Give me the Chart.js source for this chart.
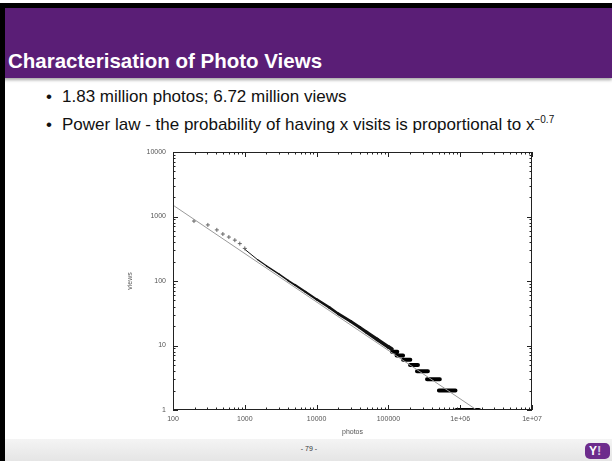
<!DOCTYPE html>
<html>
<head>
<meta charset="utf-8">
<script src="https://cdn.jsdelivr.net/npm/chart.js@4.4.0/dist/chart.umd.min.js"></script>
<style>
  html, body { margin: 0; padding: 0; background: #fff; }
  #slide { position: relative; width: 612px; height: 461px; overflow: hidden; background: #fff;
           font-family: "Liberation Sans", Arial, sans-serif; }
  #topline { position: absolute; left: 0; top: 3px; width: 612px; height: 5px; background: #000; }
  #leftline { position: absolute; left: 0; top: 3px; width: 5px; height: 458px; background: #000; z-index: 5; }
  #header { position: absolute; left: 0; top: 8px; width: 612px; height: 70px; background: #5a1e76;
            box-shadow: 0 2px 3px rgba(0,0,0,0.35); }
  #header h1 { position: absolute; left: 8px; top: 41px; margin: 0; font-size: 20.5px; line-height: 24px;
               color: #fff; font-weight: bold; }
  .bullet { position: absolute; left: 46px; font-size: 17px; line-height: 20px; color: #111; white-space: nowrap; }
  .bullet span.dot { display: inline-block; width: 16px; }
  .bullet sup { font-size: 10px; vertical-align: 7px; line-height: 0; }
  #chartBox { position: absolute; left: 90px; top: 140px; width: 460px; height: 300px; }
  #footer { position: absolute; left: 0; top: 439px; width: 612px; height: 22px;
            background: linear-gradient(#f4f4f4, #e5e5e5); }
  #page { position: absolute; left: 0; width: 618px; top: 6px; text-align: center; font-size: 7px; color: #333; }
  #logo { position: absolute; left: 585px; top: 4px; width: 25px; height: 16px; border-radius: 5px;
          background: #6d2c8c; color: #fff; font: bold 12px "Liberation Sans", Arial, sans-serif;
          line-height: 16px; text-align: left; padding-left: 4px; box-sizing: border-box; }
  #logo b { color: #d9c7e3; font-size: 13px; }
</style>
</head>
<body>
<div id="slide">
  <div id="topline"></div>
  <div id="header"><h1>Characterisation of Photo Views</h1></div>
  <div class="bullet" style="top:87px"><span class="dot">•</span>1.83 million photos; 6.72 million views</div>
  <div class="bullet" style="top:115px"><span class="dot">•</span>Power law - the probability of having x visits is proportional to x<sup>−0.7</sup></div>
  <div id="chartBox"><canvas id="viewsChart" width="460" height="300"></canvas></div>
  <div id="footer"><div id="page">- 79 -</div><div id="logo">Y<b>!</b></div></div>
  <div id="leftline"></div>
</div>
<script>
// fitted power law, drawn as a thin grey line
const fitPhotos = [100, 1700000];
const fitViews = [1500, 1];

// the few most viewed photos, plotted as single crosses
const headPhotos = [196, 306, 408, 495, 600, 727, 852, 1000];
const headViews = [850, 740, 620, 535, 480, 430, 380, 320];

// dense middle of the distribution
const bodyPhotos = [1000, 1500, 2000, 3000, 4000, 5000, 7000, 10000, 15000, 20000, 30000, 40000, 50000, 70000, 100000, 112000];
const bodyViews = [310, 215, 172, 128, 102, 87, 68, 52, 39, 31, 23.5, 19, 16, 12.4, 9.5, 8.8];

// tail: runs of photos sharing the same small view count
const stepViews = [8, 7, 6, 5, 4, 3, 2, 1];
const stepFrom = [112000, 130000, 160000, 200000, 250000, 345000, 505000, 880000];
const stepTo = [133000, 160000, 202000, 258000, 355000, 520000, 860000, 1830000];

// axis ticks
const xTickValues = [100, 1000, 10000, 100000, 1000000, 10000000];
const xTickLabels = ['100', '1000', '10000', '100000', '1e+06', '1e+07'];
const yTickValues = [1, 10, 100, 1000, 10000];
const yTickLabels = ['1', '10', '100', '1000', '10000'];

const pairs = (xs, ys) => xs.map((x, i) => ({ x: x, y: ys[i] }));

// each tail run becomes its own segment, broken by a null point
const stepPoints = [];
stepViews.forEach((v, i) => {
    stepPoints.push({ x: stepFrom[i], y: v });
    stepPoints.push({ x: stepTo[i], y: v });
    stepPoints.push({ x: stepTo[i], y: null });
});

// gnuplot-like frame: border plus inward ticks on all four sides
const frameTicks = {
    id: 'frameTicks',
    afterDraw(chart) {
        const { ctx, chartArea: a, scales: { x, y } } = chart;
        ctx.save();
        ctx.strokeStyle = '#222';
        ctx.lineWidth = 1;
        ctx.strokeRect(a.left + 0.5, a.top + 0.5, a.right - a.left - 1, a.bottom - a.top - 1);
        ctx.beginPath();
        for (let d = x.min; d < x.max * 1.01; d *= 10) {
            for (let k = 1; k < 10; k++) {
                const v = d * k;
                if (v > x.max * 1.01) break;
                const px = Math.round(x.getPixelForValue(v)) + 0.5;
                const len = k === 1 ? 5 : 2.5;
                ctx.moveTo(px, a.bottom); ctx.lineTo(px, a.bottom - len);
                ctx.moveTo(px, a.top); ctx.lineTo(px, a.top + len);
            }
        }
        for (let d = y.min; d < y.max * 1.01; d *= 10) {
            for (let k = 1; k < 10; k++) {
                const v = d * k;
                if (v > y.max * 1.01) break;
                const py = Math.round(y.getPixelForValue(v)) + 0.5;
                const len = k === 1 ? 5 : 2.5;
                ctx.moveTo(a.left, py); ctx.lineTo(a.left + len, py);
                ctx.moveTo(a.right, py); ctx.lineTo(a.right - len, py);
            }
        }
        ctx.stroke();
        ctx.restore();
    }
};

const tickFont = { family: '"Liberation Sans", Arial, sans-serif', size: 7 };

new Chart(document.getElementById('viewsChart'), {
    type: 'scatter',
    data: {
        datasets: [
            {
                label: 'fit',
                data: pairs(fitPhotos, fitViews),
                showLine: true,
                borderColor: '#9a9a9a',
                borderWidth: 1,
                pointRadius: 0
            },
            {
                label: 'head',
                data: pairs(headPhotos, headViews),
                showLine: false,
                pointStyle: 'cross',
                pointRadius: 2,
                borderColor: '#666',
                borderWidth: 1
            },
            {
                label: 'body',
                data: pairs(bodyPhotos, bodyViews),
                showLine: true,
                borderColor: '#111',
                pointRadius: 0,
                borderCapStyle: 'round',
                segment: {
                    borderWidth: c => 1 + c.p0DataIndex * 0.2
                }
            },
            {
                label: 'tail',
                data: stepPoints,
                showLine: true,
                spanGaps: false,
                borderColor: '#000',
                borderWidth: 4,
                borderCapStyle: 'round',
                pointRadius: 0
            }
        ]
    },
    options: {
        responsive: false,
        animation: false,
        layout: { padding: { top: 12, right: 18, left: 0, bottom: 0 } },
        plugins: { legend: { display: false }, tooltip: { enabled: false } },
        scales: {
            x: {
                type: 'logarithmic',
                min: 100,
                max: 10000000,
                grid: { display: false, drawTicks: false },
                border: { display: false },
                afterBuildTicks: s => { s.ticks = xTickValues.map(v => ({ value: v })); },
                afterFit: s => { s.height = 30; },
                ticks: {
                    autoSkip: false,
                    maxRotation: 0,
                    padding: 5,
                    color: '#555',
                    font: tickFont,
                    callback: (v, i) => xTickLabels[i]
                },
                title: { display: true, text: 'photos', color: '#555', font: tickFont, padding: { bottom: 4 } }
            },
            y: {
                type: 'logarithmic',
                min: 1,
                max: 10000,
                grid: { display: false, drawTicks: false },
                border: { display: false },
                afterBuildTicks: s => { s.ticks = yTickValues.map(v => ({ value: v })); },
                afterFit: s => { s.width = 83; },
                ticks: {
                    autoSkip: false,
                    padding: 7,
                    color: '#555',
                    font: tickFont,
                    callback: (v, i) => yTickLabels[i]
                },
                title: { display: true, text: 'views', color: '#555', font: tickFont, padding: { top: 36 } }
            }
        }
    },
    plugins: [frameTicks]
});
</script>
</body>
</html>
